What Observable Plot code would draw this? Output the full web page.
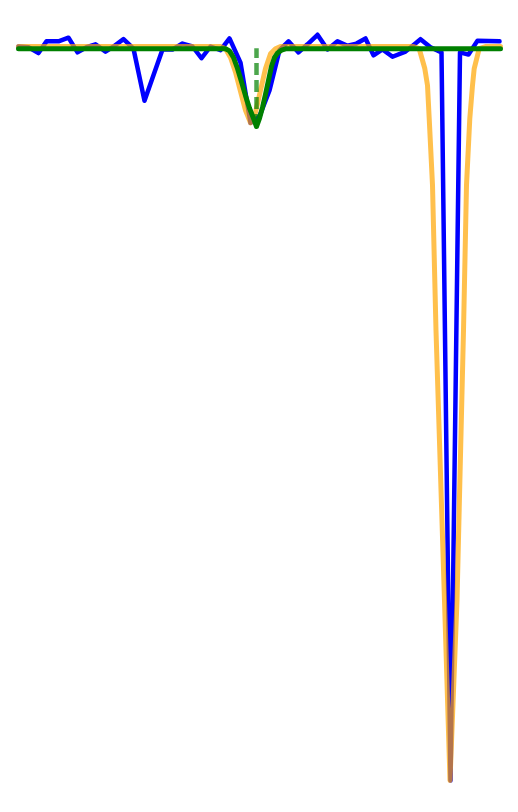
<!DOCTYPE html>
<html>
<head>
<meta charset="utf-8">
<script src="https://cdn.jsdelivr.net/npm/d3@7"></script>
<script src="https://cdn.jsdelivr.net/npm/@observablehq/plot@0.6"></script>
<style>
  html, body { margin: 0; padding: 0; background: #fff; }
  #chart svg { display: block; }
</style>
</head>
<body>
<div id="chart"></div>
<script>
// Observed spectrum (blue)
const obsX = [0, 10, 20, 28, 40, 50, 59, 68, 77, 87, 96, 105, 115, 126, 144, 154, 164, 174, 183, 192, 202, 211, 222, 232, 241, 251, 261, 270, 280, 289, 299, 309, 319, 329, 338, 347, 355, 364, 374, 387, 402, 412, 423, 432, 441.5, 450, 459, 481];
const obsY = [1.000, 0.999, 0.991, 1.007, 1.007, 1.012, 0.992, 0.999, 1.003, 0.993, 1.001, 1.010, 0.997, 0.926, 0.996, 0.996, 1.004, 1.000, 0.984, 1.000, 0.995, 1.011, 0.978, 0.896, 0.905, 0.940, 0.995, 1.007, 0.992, 1.003, 1.016, 0.996, 1.007, 1.001, 1.004, 1.011, 0.988, 0.996, 0.986, 0.993, 1.010, 0.999, 0.992, 0.000, 0.992, 0.989, 1.008, 1.007];

// Model profile (orange)
const modelX = [0, 202, 207, 212, 217, 222, 227, 232, 237, 242, 247, 252, 257, 262, 395, 400.7, 406.3, 409, 410.7, 414, 417.5, 426, 431.5, 438.5, 445, 448, 451.3, 454, 455.7, 460.7, 467, 482];
const modelY = [1.000, 1.000, 0.997, 0.985, 0.965, 0.939, 0.913, 0.896, 0.910, 0.940, 0.970, 0.990, 0.997, 1.000, 1.000, 0.997, 0.970, 0.947, 0.902, 0.811, 0.613, 0.245, 0.000, 0.245, 0.613, 0.811, 0.902, 0.947, 0.970, 0.997, 1.000, 1.000];

// Fit (green)
const fitX = [0, 207, 211, 215, 219, 223, 227, 231, 235, 238, 241, 244, 247, 250, 253, 256, 259, 263, 268, 482];
const fitY = [0.997, 0.997, 0.994, 0.985, 0.970, 0.952, 0.933, 0.916, 0.902, 0.891, 0.902, 0.917, 0.935, 0.954, 0.973, 0.985, 0.991, 0.995, 0.997, 0.997];

// Line centre marker
const centreX = [238];
const centreTop = [0.997];
const centreBottom = [0.891];

const obs = obsX.map((x, i) => ({x, y: obsY[i]}));
const model = modelX.map((x, i) => ({x, y: modelY[i]}));
const fit = fitX.map((x, i) => ({x, y: fitY[i]}));
const centre = centreX.map((x, i) => ({x, y1: centreBottom[i], y2: centreTop[i]}));

const chart = Plot.plot({
  width: 518,
  height: 812,
  marginTop: 0, marginBottom: 0, marginLeft: 0, marginRight: 0,
  style: {background: "#fff"},
  x: {domain: [0, 482], range: [18, 500], axis: null},
  y: {domain: [0, 1], range: [780, 46], axis: null},
  marks: [
    Plot.line(obs, {x: "x", y: "y", stroke: "#0000ff", strokeWidth: 4.5}),
    Plot.line(model, {x: "x", y: "y", stroke: "#ffa500", strokeOpacity: 0.7, strokeWidth: 5}),
    Plot.ruleX(centre, {x: "x", y1: "y1", y2: "y2", stroke: "#008000", strokeOpacity: 0.7, strokeWidth: 4.5, strokeDasharray: "12,5", strokeLinecap: "butt"}),
    Plot.line(fit, {x: "x", y: "y", stroke: "#008000", strokeWidth: 5})
  ]
});
document.getElementById("chart").appendChild(chart);
</script>
</body>
</html>
